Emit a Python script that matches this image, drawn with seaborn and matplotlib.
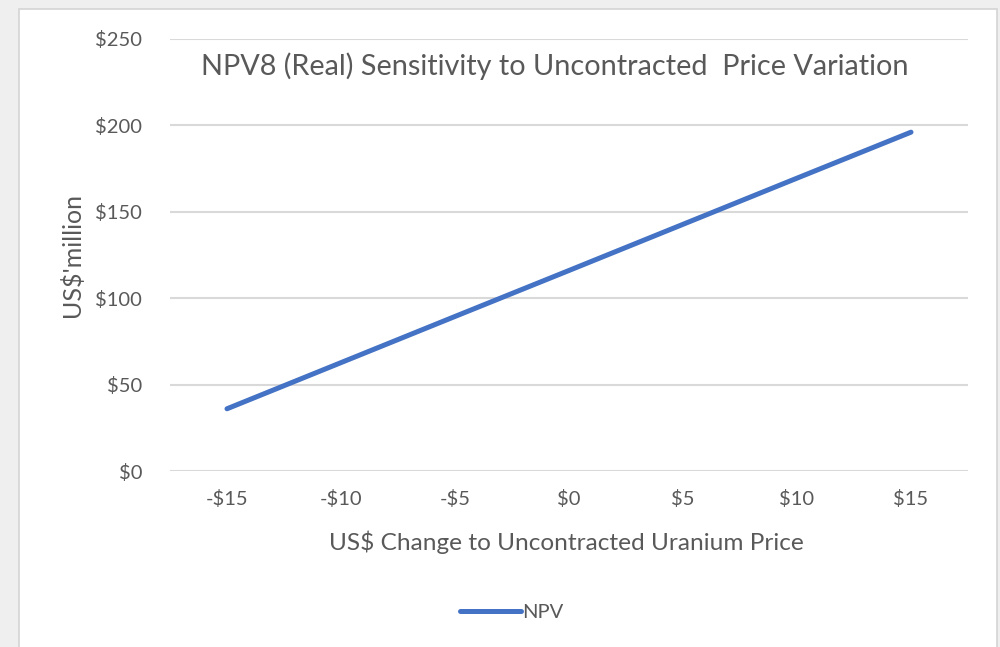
import matplotlib
matplotlib.use("Agg")
import matplotlib.pyplot as plt
import matplotlib.patches as mpatches
import pandas as pd
import seaborn as sns

# Sensitivity data
price_change = ['-$15', '-$10', '-$5', '$0', '$5', '$10', '$15']
npv_musd = [36, 62.7, 89.4, 116, 142.7, 169.4, 196]
y_ticks = [0, 50, 100, 150, 200, 250]

df = pd.DataFrame({'change': price_change, 'npv': npv_musd})

sns.set_theme(style='white')
plt.rcParams['font.family'] = ['Lato', 'DejaVu Sans']

txt = '#595959'
blue = '#4472C4'

fig = plt.figure(figsize=(10, 6.47), dpi=100)
fig.patch.set_facecolor('#efefef')
# white chart area with thin border, like the Excel screenshot
fig.patches.append(mpatches.Rectangle((0.019, -0.01), 0.978, 0.996, transform=fig.transFigure,
                                      facecolor='white', edgecolor='#d4d4d4', lw=1.2, zorder=-5))

ax = fig.add_axes([0.17, 0.272, 0.798, 0.668])
ax.set_zorder(2)
ax.set_facecolor('none')
sns.lineplot(data=df, x='change', y='npv', ax=ax, color=blue, lw=3.6,
             solid_capstyle='round', label='NPV', legend=False)

ax.set_xlim(-0.5, len(price_change) - 0.5)
ax.set_ylim(0, 250)
ax.set_yticks(y_ticks)
ax.set_yticklabels([f'${v}' for v in y_ticks])
ax.yaxis.grid(True, color='#d9d9d9', lw=1.5)
ax.xaxis.grid(False)
ax.set_axisbelow(True)
for s in ax.spines.values():
    s.set_visible(False)
ax.tick_params(axis='both', length=0, labelsize=14.5, labelcolor=txt)
ax.tick_params(axis='y', pad=20)
ax.tick_params(axis='x', pad=14)
ax.set_xlabel('')
ax.set_ylabel('')

fig.text(0.555, 0.898, 'NPV8 (Real) Sensitivity to Uncontracted  Price Variation',
         ha='center', va='center', fontsize=20.8, color=txt)
fig.text(0.566, 0.162, 'US$ Change to Uncontracted Uranium Price',
         ha='center', va='center', fontsize=17.6, color=txt)
fig.text(0.072, 0.606, "US$'million", ha='center', va='center', rotation=90,
         fontsize=18, color=txt)

leg = ax.legend(loc='center', bbox_to_anchor=(0.512, 0.054), bbox_transform=fig.transFigure,
                frameon=False, fontsize=14.5, handlelength=3.0, handletextpad=0.1)
for t in leg.get_texts():
    t.set_color(txt)

fig.savefig('out.png', dpi=100, facecolor=fig.get_facecolor())
